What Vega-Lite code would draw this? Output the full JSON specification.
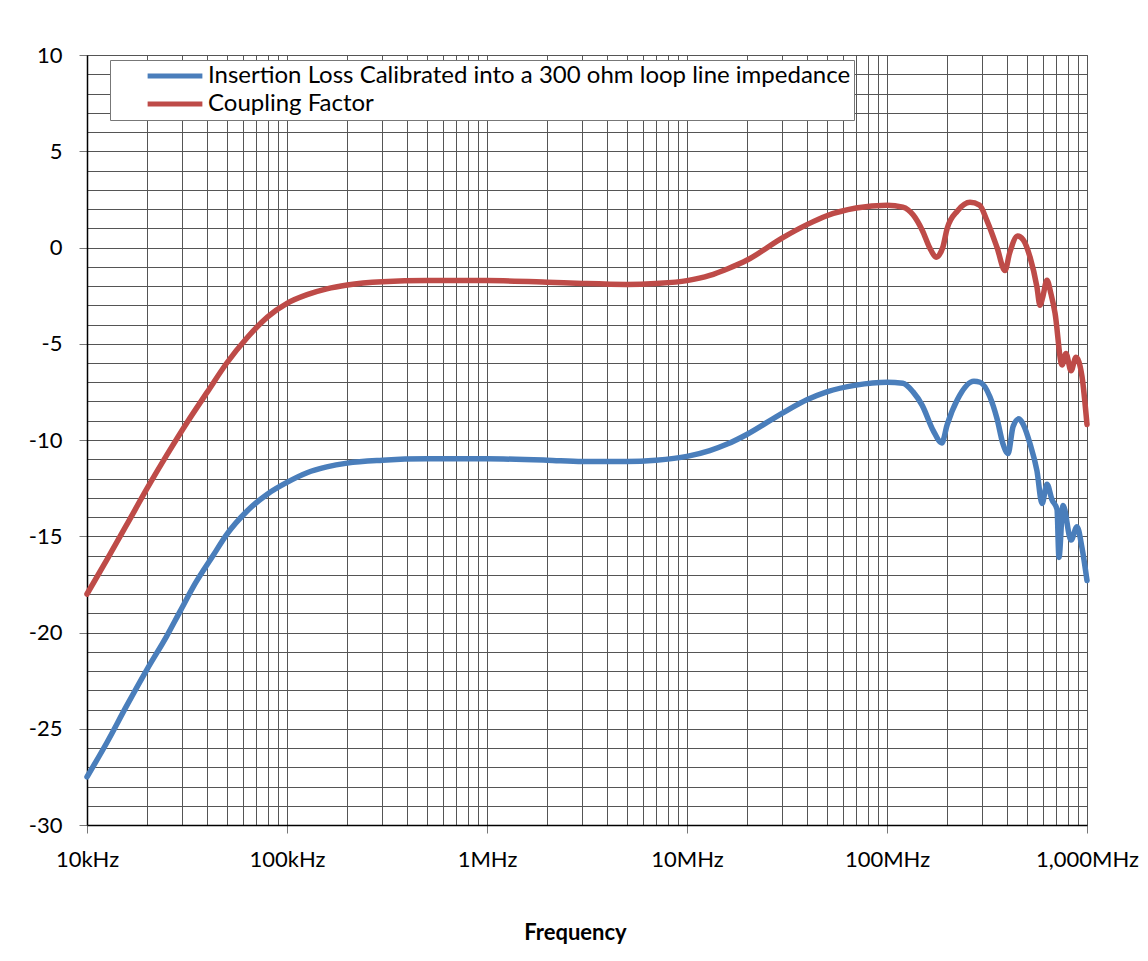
{
  "$schema": "https://vega.github.io/schema/vega-lite/v6.json",
  "width": 1000,
  "height": 770,
  "autosize": {"type": "none"},
  "padding": {"left": 87, "top": 55, "right": 61, "bottom": 136},
  "background": "white",
  "config": {
    "font": "Lato",
    "view": {"stroke": "#555", "strokeWidth": 1}
  },
  "data": {
    "values": [
      {"f": 1e4, "v": -27.5, "s": "IL"},
      {"f": 1.26e4, "v": -25.7, "s": "IL"},
      {"f": 1.58e4, "v": -23.8, "s": "IL"},
      {"f": 2e4, "v": -21.9, "s": "IL"},
      {"f": 2.5e4, "v": -20.2, "s": "IL"},
      {"f": 2.92e4, "v": -18.9, "s": "IL"},
      {"f": 3.5e4, "v": -17.4, "s": "IL"},
      {"f": 4.27e4, "v": -16.0, "s": "IL"},
      {"f": 5e4, "v": -14.9, "s": "IL"},
      {"f": 6.3e4, "v": -13.7, "s": "IL"},
      {"f": 8e4, "v": -12.8, "s": "IL"},
      {"f": 1e5, "v": -12.2, "s": "IL"},
      {"f": 1.26e5, "v": -11.7, "s": "IL"},
      {"f": 1.58e5, "v": -11.4, "s": "IL"},
      {"f": 2e5, "v": -11.2, "s": "IL"},
      {"f": 3e5, "v": -11.05, "s": "IL"},
      {"f": 5e5, "v": -10.98, "s": "IL"},
      {"f": 1e6, "v": -10.98, "s": "IL"},
      {"f": 2e6, "v": -11.05, "s": "IL"},
      {"f": 3e6, "v": -11.12, "s": "IL"},
      {"f": 5e6, "v": -11.12, "s": "IL"},
      {"f": 7e6, "v": -11.05, "s": "IL"},
      {"f": 1e7, "v": -10.85, "s": "IL"},
      {"f": 1.3e7, "v": -10.55, "s": "IL"},
      {"f": 1.6e7, "v": -10.2, "s": "IL"},
      {"f": 2e7, "v": -9.7, "s": "IL"},
      {"f": 3e7, "v": -8.6, "s": "IL"},
      {"f": 4e7, "v": -7.9, "s": "IL"},
      {"f": 5e7, "v": -7.5, "s": "IL"},
      {"f": 7e7, "v": -7.15, "s": "IL"},
      {"f": 1e8, "v": -7.0, "s": "IL"},
      {"f": 1.2e8, "v": -7.05, "s": "IL"},
      {"f": 1.35e8, "v": -7.5, "s": "IL"},
      {"f": 1.5e8, "v": -8.2, "s": "IL"},
      {"f": 1.7e8, "v": -9.5, "s": "IL"},
      {"f": 1.88e8, "v": -10.15, "s": "IL"},
      {"f": 2.0e8, "v": -9.2, "s": "IL"},
      {"f": 2.25e8, "v": -7.9, "s": "IL"},
      {"f": 2.72e8, "v": -6.95, "s": "IL"},
      {"f": 2.92e8, "v": -7.0, "s": "IL"},
      {"f": 3.27e8, "v": -7.75, "s": "IL"},
      {"f": 3.55e8, "v": -8.9, "s": "IL"},
      {"f": 3.8e8, "v": -10.2, "s": "IL"},
      {"f": 4.03e8, "v": -10.7, "s": "IL"},
      {"f": 4.27e8, "v": -9.3, "s": "IL"},
      {"f": 4.57e8, "v": -8.9, "s": "IL"},
      {"f": 4.8e8, "v": -9.2, "s": "IL"},
      {"f": 5.19e8, "v": -10.2, "s": "IL"},
      {"f": 5.62e8, "v": -11.6, "s": "IL"},
      {"f": 5.96e8, "v": -13.3, "s": "IL"},
      {"f": 6.31e8, "v": -12.3, "s": "IL"},
      {"f": 6.68e8, "v": -13.1, "s": "IL"},
      {"f": 7.08e8, "v": -13.6, "s": "IL"},
      {"f": 7.24e8, "v": -16.1, "s": "IL"},
      {"f": 7.59e8, "v": -13.4, "s": "IL"},
      {"f": 8.32e8, "v": -15.2, "s": "IL"},
      {"f": 8.91e8, "v": -14.5, "s": "IL"},
      {"f": 9.44e8, "v": -15.6, "s": "IL"},
      {"f": 1e9, "v": -17.3, "s": "IL"},
      {"f": 1e4, "v": -18.0, "s": "CF"},
      {"f": 1.26e4, "v": -16.2, "s": "CF"},
      {"f": 1.58e4, "v": -14.4, "s": "CF"},
      {"f": 2e4, "v": -12.5, "s": "CF"},
      {"f": 2.5e4, "v": -10.8, "s": "CF"},
      {"f": 3.16e4, "v": -9.1, "s": "CF"},
      {"f": 4e4, "v": -7.5, "s": "CF"},
      {"f": 5e4, "v": -6.0, "s": "CF"},
      {"f": 6.3e4, "v": -4.7, "s": "CF"},
      {"f": 8e4, "v": -3.6, "s": "CF"},
      {"f": 1e5, "v": -2.9, "s": "CF"},
      {"f": 1.26e5, "v": -2.45, "s": "CF"},
      {"f": 1.58e5, "v": -2.15, "s": "CF"},
      {"f": 2e5, "v": -1.95, "s": "CF"},
      {"f": 3e5, "v": -1.78, "s": "CF"},
      {"f": 5e5, "v": -1.72, "s": "CF"},
      {"f": 1e6, "v": -1.72, "s": "CF"},
      {"f": 2e6, "v": -1.8, "s": "CF"},
      {"f": 3e6, "v": -1.87, "s": "CF"},
      {"f": 5e6, "v": -1.92, "s": "CF"},
      {"f": 7e6, "v": -1.87, "s": "CF"},
      {"f": 1e7, "v": -1.72, "s": "CF"},
      {"f": 1.3e7, "v": -1.45, "s": "CF"},
      {"f": 1.6e7, "v": -1.1, "s": "CF"},
      {"f": 2e7, "v": -0.65, "s": "CF"},
      {"f": 3e7, "v": 0.5, "s": "CF"},
      {"f": 4e7, "v": 1.2, "s": "CF"},
      {"f": 5e7, "v": 1.65, "s": "CF"},
      {"f": 7e7, "v": 2.05, "s": "CF"},
      {"f": 1e8, "v": 2.2, "s": "CF"},
      {"f": 1.2e8, "v": 2.1, "s": "CF"},
      {"f": 1.35e8, "v": 1.7, "s": "CF"},
      {"f": 1.5e8, "v": 0.9, "s": "CF"},
      {"f": 1.65e8, "v": -0.1, "s": "CF"},
      {"f": 1.76e8, "v": -0.5, "s": "CF"},
      {"f": 1.9e8, "v": 0.0, "s": "CF"},
      {"f": 2.0e8, "v": 1.0, "s": "CF"},
      {"f": 2.25e8, "v": 1.9, "s": "CF"},
      {"f": 2.6e8, "v": 2.35, "s": "CF"},
      {"f": 2.9e8, "v": 2.2, "s": "CF"},
      {"f": 3.16e8, "v": 1.4, "s": "CF"},
      {"f": 3.55e8, "v": 0.0, "s": "CF"},
      {"f": 3.89e8, "v": -1.2, "s": "CF"},
      {"f": 4.1e8, "v": -0.3, "s": "CF"},
      {"f": 4.5e8, "v": 0.6, "s": "CF"},
      {"f": 4.8e8, "v": 0.4, "s": "CF"},
      {"f": 5.19e8, "v": -0.5, "s": "CF"},
      {"f": 5.62e8, "v": -2.05, "s": "CF"},
      {"f": 5.82e8, "v": -3.0, "s": "CF"},
      {"f": 6.0e8, "v": -2.6, "s": "CF"},
      {"f": 6.31e8, "v": -1.7, "s": "CF"},
      {"f": 6.6e8, "v": -2.4, "s": "CF"},
      {"f": 6.92e8, "v": -3.4, "s": "CF"},
      {"f": 7.5e8, "v": -6.1, "s": "CF"},
      {"f": 7.85e8, "v": -5.5, "s": "CF"},
      {"f": 8.32e8, "v": -6.4, "s": "CF"},
      {"f": 8.81e8, "v": -5.7, "s": "CF"},
      {"f": 9.44e8, "v": -6.7, "s": "CF"},
      {"f": 1e9, "v": -9.2, "s": "CF"}
    ]
  },
  "transform": [
    {"calculate": "datum.s == 'IL' ? 'Insertion Loss Calibrated into a 300 ohm loop line impedance' : 'Coupling Factor'", "as": "series"}
  ],
  "mark": {"type": "line", "interpolate": "monotone", "strokeWidth": 5.5, "strokeCap": "round", "strokeJoin": "round"},
  "encoding": {
    "x": {
      "field": "f",
      "type": "quantitative",
      "scale": {"type": "log", "domain": [1e4, 1e9], "nice": false},
      "axis": {
        "title": "Frequency",
        "titleFont": "Lato",
        "titleFontSize": 22,
        "titleFontWeight": "bold",
        "titleColor": "black",
        "titlePadding": 52,
        "titleX": 488,
        "values": [1e4,2e4,3e4,4e4,5e4,6e4,7e4,8e4,9e4,1e5,2e5,3e5,4e5,5e5,6e5,7e5,8e5,9e5,1e6,2e6,3e6,4e6,5e6,6e6,7e6,8e6,9e6,1e7,2e7,3e7,4e7,5e7,6e7,7e7,8e7,9e7,1e8,2e8,3e8,4e8,5e8,6e8,7e8,8e8,9e8,1e9],
        "labelExpr": "datum.value == 1e4 ? '10kHz' : datum.value == 1e5 ? '100kHz' : datum.value == 1e6 ? '1MHz' : datum.value == 1e7 ? '10MHz' : datum.value == 1e8 ? '100MHz' : datum.value == 1e9 ? '1,000MHz' : ''",
        "labelFontSize": 22,
        "labelColor": "black",
        "labelPadding": 16,
        "labelOverlap": false,
        "labelFlush": false,
        "grid": true,
        "gridColor": "#555",
        "gridWidth": 1,
        "domainColor": "black",
        "domainWidth": 1.5,
        "tickColor": "#777",
        "tickSize": 8,
        "tickOpacity": {"condition": {"test": "indexof([10000,100000,1000000,10000000,100000000,1000000000], datum.value) >= 0", "value": 1}, "value": 0}
      }
    },
    "y": {
      "field": "v",
      "type": "quantitative",
      "scale": {"domain": [-30, 10], "nice": false},
      "axis": {
        "title": null,
        "values": [-30,-29,-28,-27,-26,-25,-24,-23,-22,-21,-20,-19,-18,-17,-16,-15,-14,-13,-12,-11,-10,-9,-8,-7,-6,-5,-4,-3,-2,-1,0,1,2,3,4,5,6,7,8,9,10],
        "labelExpr": "datum.value % 5 == 0 ? '' + datum.value : ''",
        "labelFontSize": 22,
        "labelColor": "black",
        "labelPadding": 17,
        "labelOverlap": false,
        "labelFlush": false,
        "grid": true,
        "gridColor": "#555",
        "gridWidth": 1,
        "domainColor": "black",
        "domainWidth": 1.5,
        "tickColor": "#777",
        "tickSize": 8,
        "tickOpacity": {"condition": {"test": "datum.value % 5 == 0", "value": 1}, "value": 0}
      }
    },
    "color": {
      "field": "series",
      "type": "nominal",
      "scale": {
        "domain": ["Insertion Loss Calibrated into a 300 ohm loop line impedance", "Coupling Factor"],
        "range": ["#4A7EBB", "#BE4B48"]
      },
      "legend": {
        "title": null,
        "orient": "none",
        "legendX": 23,
        "legendY": 5,
        "direction": "vertical",
        "fillColor": "white",
        "strokeColor": "#777",
        "padding": 3,
        "symbolType": "stroke",
        "symbolStrokeWidth": 5,
        "symbolSize": 3000,
        "symbolOffset": 32,
        "clipHeight": 26,
        "labelFontSize": 24,
        "labelColor": "black",
        "labelOffset": 3,
        "labelLimit": 1000,
        "rowPadding": 2
      }
    }
  }
}
